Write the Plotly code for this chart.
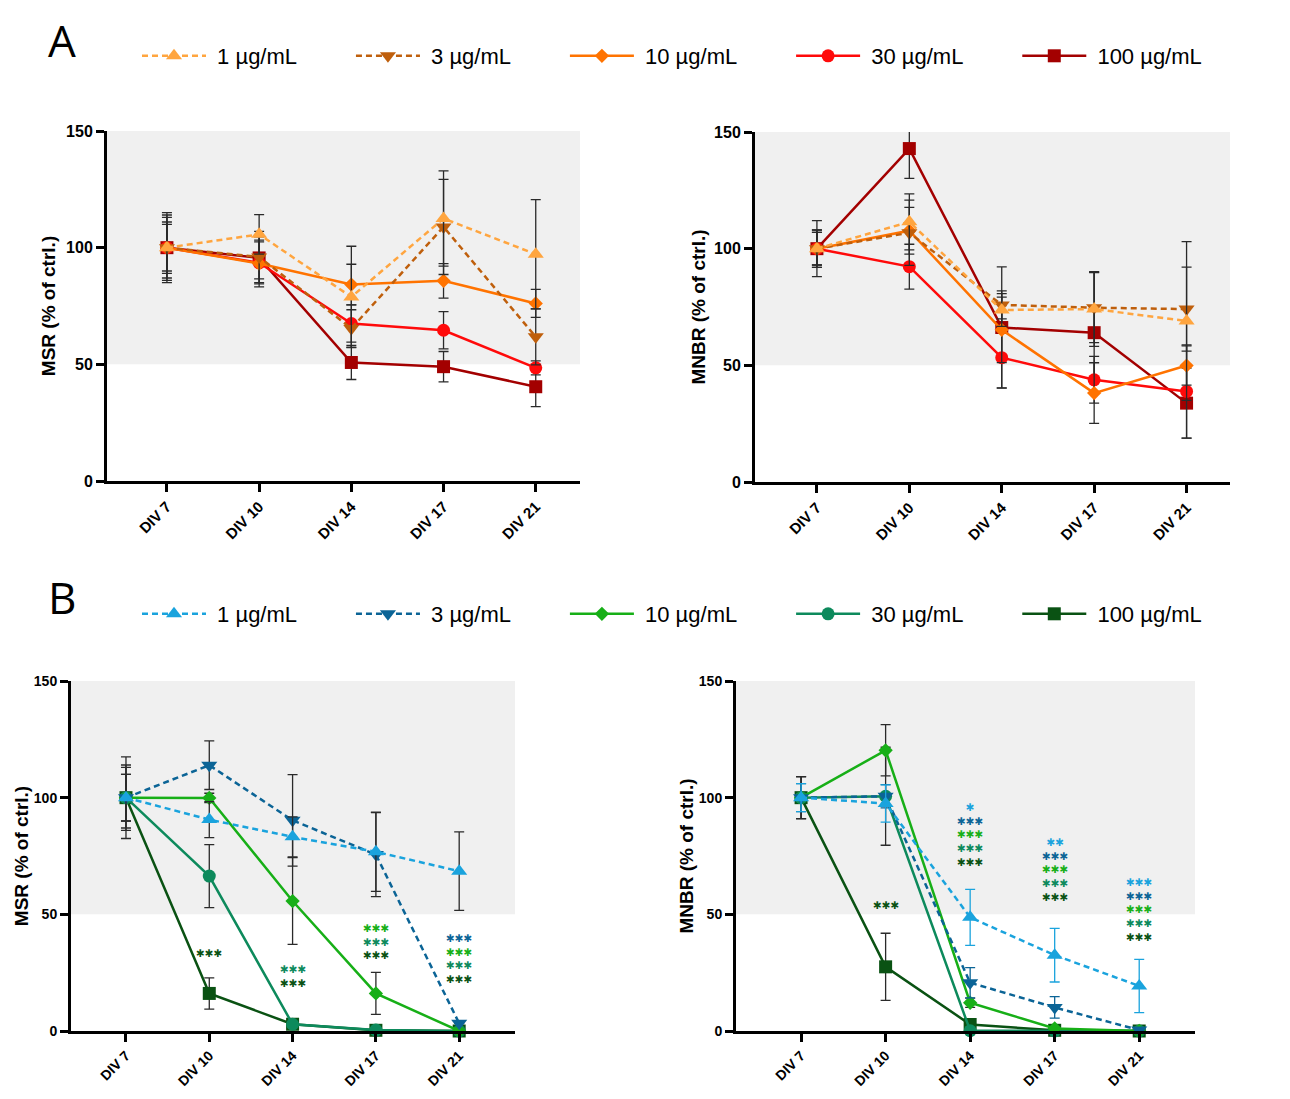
import plotly.graph_objects as go

days = ["DIV 7", "DIV 10", "DIV 14", "DIV 17", "DIV 21"]
conc = ["1 µg/mL", "3 µg/mL", "10 µg/mL", "30 µg/mL", "100 µg/mL"]

# Panel A - MSR
a_msr = [
    [100, 105.7, 78.9, 112.5, 97.2],
    [100, 96.0, 65.4, 108.9, 61.8],
    [100, 93.2, 84.2, 85.8, 76.1],
    [100, 93.5, 67.5, 64.6, 48.5],
    [100, 95.6, 50.8, 49.0, 40.4],
]
a_msr_err = [
    [13, 8.5, 21.7, 20.4, 23.4],
    [10, 11, 8, 20.4, 12],
    [11, 10, 8.7, 7.4, 6],
    [14, 9, 8, 8, 3],
    [15, 9, 7.3, 6.5, 8.5],
]
# Panel A - MNBR
a_mnbr = [
    [100, 111.5, 73.7, 74.1, 69.0],
    [100, 106.8, 75.9, 74.7, 74.1],
    [100, 107.7, 65.2, 38.1, 49.9],
    [100, 92.3, 53.3, 43.8, 38.8],
    [100, 142.9, 66.2, 64.0, 33.8],
]
a_mnbr_err = [
    [8, 12, 7, 16, 34],
    [7, 14, 6, 15, 18],
    [8, 10, 14, 13, 8.4],
    [7, 9.6, 13, 10, 20],
    [12, 12.8, 26, 26, 15],
]
# Panel B - MSR
b_msr = [
    [100, 90.6, 83.2, 76.8, 68.5],
    [100, 113.9, 90.3, 75.6, 3.3],
    [100, 99.9, 55.7, 16.1, 0],
    [100, 66.4, 2.9, 0.4, 0],
    [100, 16.1, 2.9, 0.3, 0],
]
b_msr_err = [
    [10, 7.7, 8.6, 17, 16.8],
    [13, 10.4, 19.6, 18, 0],
    [10, 2, 18.6, 9, 0],
    [17.5, 13.5, 1, 0, 0],
    [14, 6.7, 1, 0, 0],
]
# Panel B - MNBR
b_mnbr = [
    [100, 97.5, 48.7, 32.5, 19.3],
    [100, 100.6, 20.7, 10.1, 0.4],
    [100, 120.3, 12.1, 1.1, 0],
    [100, 100.6, 0.1, 0, 0],
    [100, 27.5, 2.8, 0.3, 0],
]
b_mnbr_err = [
    [6, 8, 12, 11.5, 11.4],
    [6, 5, 6.5, 4.6, 0],
    [9, 11, 2, 1, 0],
    [9, 21, 0, 0, 0],
    [9, 14.4, 1, 0, 0],
]

# significance stars (panel B): per column, list of (text, concentration index), top to bottom
stars_msr_x = ["DIV 10", "DIV 14", "DIV 17", "DIV 21"]
stars_msr_y = [33.5, 23.6, 38.5, 31.0]  # centre of each stack
stars_msr_s = [
    [("***", 4)],
    [("***", 3), ("***", 4)],
    [("***", 2), ("***", 3), ("***", 4)],
    [("***", 1), ("***", 2), ("***", 3), ("***", 4)],
]
stars_mnbr_x = ["DIV 10", "DIV 14", "DIV 17", "DIV 21"]
stars_mnbr_y = [54, 84.2, 69.4, 52.2]
stars_mnbr_s = [
    [("***", 4)],
    [("*", 0), ("***", 1), ("***", 2), ("***", 3), ("***", 4)],
    [("**", 0), ("***", 1), ("***", 2), ("***", 3), ("***", 4)],
    [("***", 0), ("***", 1), ("***", 2), ("***", 3), ("***", 4)],
]

colors_a = ["#FFA53F", "#BF5F0C", "#FF7300", "#FF0A0A", "#A30000"]
colors_b = ["#1AA3DD", "#0B6496", "#17AF17", "#0D8A5C", "#0A5213"]
symbols = ["triangle-up", "triangle-down", "diamond", "circle", "square"]
msizes = [14, 14, 11, 13, 13]
dashes = ["6px,4px", "6px,4px", "solid", "solid", "solid"]

FONT = "Liberation Sans"
ERRC = "#2a2a2a"
NB = "\u00a0"

fig = go.Figure()

panels = [
    ("x", "y", a_msr, a_msr_err, colors_a, "legend", True, False),
    ("x2", "y2", a_mnbr, a_mnbr_err, colors_a, "legend", False, False),
    ("x3", "y3", b_msr, b_msr_err, colors_b, "legend2", True, False),
    ("x4", "y4", b_mnbr, b_mnbr_err, colors_b, "legend2", False, True),
]

order = [4, 3, 2, 1, 0]
for xa, ya, vals, errs, cols, leg, show, colored_err in panels:
    for i in order:
        ec = ERRC
        if colored_err and i in (0, 1):
            ec = cols[i]
        fig.add_trace(go.Scatter(
            x=days, y=vals[i], xaxis=xa, yaxis=ya,
            mode="lines+markers", name=NB + conc[i] + NB * 8,
            line=dict(color=cols[i], width=2.5, dash=dashes[i]),
            marker=dict(symbol=symbols[i], size=msizes[i], color=cols[i]),
            error_y=dict(type="data", array=errs[i], color=ec, thickness=1.3, width=5),
            legend=leg, showlegend=show, legendrank=i + 1,
            cliponaxis=False,
        ))

STAR = "\u2731"
for xs, ys, ss, xa, ya in [
    (stars_msr_x, stars_msr_y, stars_msr_s, "x3", "y3"),
    (stars_mnbr_x, stars_mnbr_y, stars_mnbr_s, "x4", "y4"),
]:
    for xv, yv, stack in zip(xs, ys, ss):
        lines = []
        for t, ci in stack:
            lines.append('<span style="color:%s">%s</span>' % (colors_b[ci], STAR * len(t)))
        fig.add_annotation(x=xv, y=yv, xref=xa, yref=ya, text="<br>".join(lines),
                           showarrow=False, align="center",
                           font=dict(family="DejaVu Sans", size=10.5, color="black"),
                           yanchor="middle")

W, H = 1290, 1099
def px_x(a, b):
    return [a / W, b / W]
def px_y(top, bot):
    return [1 - bot / H, 1 - top / H]

axdefs = {
    "": (px_x(107, 580), px_y(131, 481), [-0.65, 4.48], "MSR (% of ctrl.)", 16, 15, 6),
    "2": (px_x(755, 1230), px_y(132, 482), [-0.67, 4.47], "MNBR (% of ctrl.)", 16, 15, 4),
    "3": (px_x(71, 515), px_y(681, 1031), [-0.66, 4.67], "MSR (% of ctrl.)", 14, 14, 1),
    "4": (px_x(736, 1195), px_y(681, 1031), [-0.77, 4.66], "MNBR (% of ctrl.)", 14, 14, 1),
}

layout = dict(
    width=W, height=H, paper_bgcolor="white", plot_bgcolor="white",
    margin=dict(l=0, r=0, t=0, b=0, autoexpand=False),
    font=dict(family=FONT, color="black"),
)
shapes = []
for k, (xd, yd, xr, title, yfs, xfs, stand) in axdefs.items():
    layout["xaxis" + k] = dict(
        domain=xd, anchor="y" + k, type="category", range=xr,
        showline=True, linecolor="black", linewidth=3, showgrid=False, zeroline=False,
        ticks="outside", ticklen=8, tickwidth=2.5, tickcolor="black",
        tickangle=-45, tickfont=dict(family=FONT, size=xfs, color="black", weight="bold"),
        fixedrange=True, automargin=False,
    )
    layout["yaxis" + k] = dict(
        domain=yd, anchor="x" + k, range=[0, 150], tickvals=[0, 50, 100, 150],
        showline=True, linecolor="black", linewidth=3, showgrid=False, zeroline=False,
        ticks="outside", ticklen=8, tickwidth=2.5, tickcolor="black",
        tickfont=dict(family=FONT, size=yfs, color="black", weight="bold"),
        title=dict(text=title, font=dict(family=FONT, size=19, color="black", weight="bold"),
                   standoff=stand),
        fixedrange=True, automargin=False,
    )
    shapes.append(dict(type="rect", xref=("x" + k) + " domain", yref="y" + k,
                       x0=0, x1=1, y0=50, y1=150, fillcolor="#F0F0F0",
                       line=dict(width=0), layer="below"))
layout["shapes"] = shapes

leg_common = dict(orientation="h", xanchor="left", yanchor="middle",
                  font=dict(family=FONT, size=22, color="black"),
                  bgcolor="rgba(0,0,0,0)", itemwidth=64, traceorder="normal")
layout["legend"] = dict(x=137 / W, y=1 - 56 / H, **leg_common)
layout["legend2"] = dict(x=137 / W, y=1 - 614 / H, **leg_common)

fig.update_layout(**layout)

fig.add_annotation(x=62 / W, y=1 - 40 / H, xref="paper", yref="paper", text="A",
                   xanchor="center", yanchor="middle",
                   showarrow=False, font=dict(family="Open Sans", size=44, color="black"))
fig.add_annotation(x=62 / W, y=1 - 597 / H, xref="paper", yref="paper", text="B",
                   xanchor="center", yanchor="middle",
                   showarrow=False, font=dict(family="Open Sans", size=44, color="black"))

fig.write_html("out.html", config={"displayModeBar": False},
               post_script="document.body.style.margin='0px';")
